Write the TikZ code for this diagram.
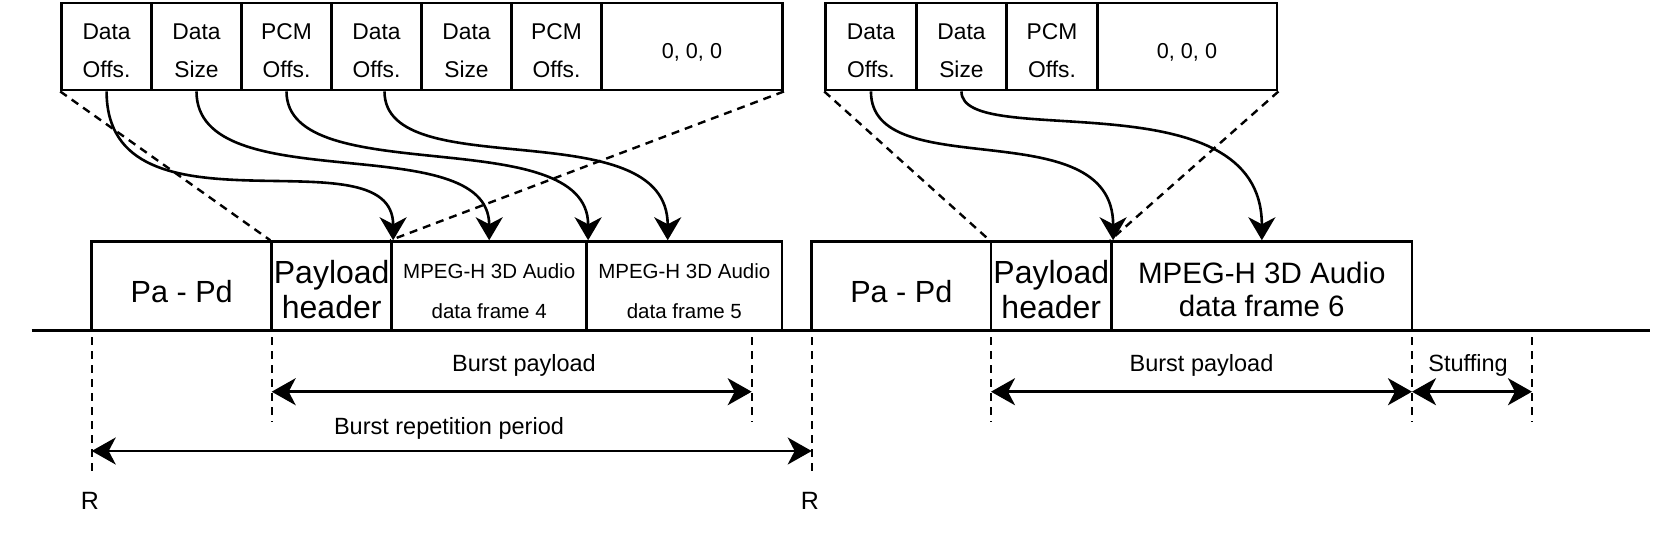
\documentclass[tikz,border=0pt]{standalone}
\usepackage{fontspec}
\setmainfont{Liberation Sans}
\usetikzlibrary{arrows.meta,fit,calc}
\begin{document}
\begin{tikzpicture}[x=0.5pt,y=-0.5pt,
  box/.style={draw, line width=1.45pt, inner sep=0pt},
  celltx/.style={anchor=base, inner sep=0pt, font=\fontsize{11.4}{13}\selectfont},
  tx/.style={anchor=base, inner sep=0pt},
  conn/.style={line width=1.3pt, -{Stealth[length=11.5pt, width=13.5pt, inset=3.5pt]}},
  dim/.style={line width=1.3pt, {Stealth[length=12pt, width=13.5pt, inset=3.5pt]}-{Stealth[length=12pt, width=13.5pt, inset=3.5pt]}},
  dashln/.style={line width=1.2pt, dash pattern=on 4pt off 3pt},
  lbl/.style={anchor=base, inner sep=0pt, font=\fontsize{11.75}{14}\selectfont}]
\useasboundingbox (0,0) rectangle (1656,543);

% ---------- top table 1 ----------
\foreach \n/\a/\b/\l/\m in {c1/61.7/151.5/Data/Offs., c2/151.5/241.5/Data/Size, c3/241.5/331.5/PCM/Offs., c4/331.5/421.5/Data/Offs., c5/421.5/511.5/Data/Size, c6/511.5/601.5/PCM/Offs.}{
  \node[box, fit={(\a,3)(\b,90)}] (\n) {};
  \node[celltx] (\n-a) at ({(\a+\b)/2},39.3) {\l};
  \node[celltx] (\n-b) at ({(\a+\b)/2},77.3) {\m};
}
\node[box, fit={(601.5,3)(782.5,90)}] (c7) {};
\node[tx, font=\fontsize{10.8}{12}\selectfont] (c7-a) at (692,58.5) {0, 0, 0};

% ---------- top table 2 ----------
\foreach \n/\a/\b/\l/\m in {d1/825.7/916.2/Data/Offs., d2/916.2/1006.7/Data/Size, d3/1006.7/1097.2/PCM/Offs.}{
  \node[box, fit={(\a,3)(\b,90)}] (\n) {};
  \node[celltx] (\n-a) at ({(\a+\b)/2},39.3) {\l};
  \node[celltx] (\n-b) at ({(\a+\b)/2},77.3) {\m};
}
\node[box, fit={(1097.2,3)(1277,90)}] (d4) {};
\node[tx, font=\fontsize{10.8}{12}\selectfont] (d4-a) at (1187,58.5) {0, 0, 0};

% ---------- baseline ----------
\coordinate (bl) at (31.7,330.5);
\coordinate (br) at (1650,330.5);
\draw[line width=1.45pt] (bl) -- (br);

% ---------- lower boxes ----------
\node[box, fit={(91.7,241.7)(271.7,330.5)}] (pp1) {};
\node[box, fit={(271.7,241.7)(391.7,330.5)}] (ph1) {};
\node[box, fit={(391.7,241.7)(586.7,330.5)}] (f4) {};
\node[box, fit={(586.7,241.7)(782,330.5)}] (f5) {};
\node[box, fit={(811.7,241.7)(991,330.5)}] (pp2) {};
\node[box, fit={(991,241.7)(1111.7,330.5)}] (ph2) {};
\node[box, fit={(1111.7,241.7)(1412,330.5)}] (f6) {};

\node[tx, font=\fontsize{15.3}{18}\selectfont] (pp1-t) at (181.7,302) {Pa - Pd};
\node[tx, font=\fontsize{15.3}{18}\selectfont] (pp2-t) at (901.3,302) {Pa - Pd};
\node[tx, font=\fontsize{16}{19}\selectfont] (ph1-a) at (331.7,283.3) {Payload};
\node[tx, font=\fontsize{16}{19}\selectfont] (ph1-b) at (331.7,318) {header};
\node[tx, font=\fontsize{16}{19}\selectfont] (ph2-a) at (1051.3,283.3) {Payload};
\node[tx, font=\fontsize{16}{19}\selectfont] (ph2-b) at (1051.3,318) {header};
\node[tx, font=\fontsize{10.25}{12}\selectfont] (f4-a) at (489.2,278.3) {MPEG-H 3D Audio};
\node[tx, font=\fontsize{10.25}{12}\selectfont] (f4-b) at (489.2,318.3) {data frame 4};
\node[tx, font=\fontsize{10.25}{12}\selectfont] (f5-a) at (684.3,278.3) {MPEG-H 3D Audio};
\node[tx, font=\fontsize{10.25}{12}\selectfont] (f5-b) at (684.3,318.3) {data frame 5};
\node[tx, font=\fontsize{14.75}{17}\selectfont] (f6-a) at (1261.8,283.3) {MPEG-H 3D Audio};
\node[tx, font=\fontsize{14.75}{17}\selectfont] (f6-b) at (1261.8,316.7) {data frame 6};

% ---------- dashed zoom lines ----------
\draw[dashln] (c1.south west) -- (ph1.north west);
\draw[dashln] (c7.south east) -- (f4.north west);
\draw[dashln] (d1.south west) -- (ph2.north west);
\draw[dashln] (d4.south east) -- (f6.north west);

% ---------- curved connectors ----------
\coordinate (t4) at ($(f5.north west)!0.416!(f5.north east)$);
\draw[conn] (c1.south) .. controls +(0,155) and +(0,-111) .. (ph1.north east);
\draw[conn] (c2.south) .. controls +(0,110) and +(0,-114) .. (f4.north);
\draw[conn] (c3.south) .. controls +(0,100) and +(0,-120) .. (f4.north east);
\draw[conn] ([xshift=4pt]c4.south) .. controls +(0,95) and +(0,-131) .. (t4);
\draw[conn] (d1.south) .. controls +(0,95) and +(0,-131) .. (ph2.north east);
\draw[conn] (d2.south) .. controls +(0,60) and +(0,-165) .. (f6.north);

% ---------- dimension guides ----------
\foreach \n/\x/\yb in {g1/91.7/473, g2/271.7/422, g3/751.7/422, g4/811.7/473, g5/991/422, g6/1412/422, g7/1532/422}{
  \coordinate (\n t) at (\x,337);
  \coordinate (\n b) at (\x,\yb);
  \draw[dashln] (\n t) -- (\n b);
}
\coordinate (a1l) at (271.7,391.7);
\coordinate (a1r) at (751.7,391.7);
\coordinate (a2l) at (91.7,451);
\coordinate (a2r) at (811.7,451);
\coordinate (a3l) at (991,391.7);
\coordinate (a3r) at (1412,391.7);
\coordinate (a4r) at (1532,391.7);
\draw[dim] (a1l) -- (a1r);
\draw[dim] (a2l) -- (a2r);
\draw[dim] (a3l) -- (a3r);
\draw[dim] (a3r) -- (a4r);

\node[lbl] (l1) at (524,371.7) {Burst payload};
\node[lbl] (l2) at (449,434) {Burst repetition period};
\node[lbl] (l3) at (1201.5,371.7) {Burst payload};
\node[lbl] (l4) at (1468,371.7) {Stuffing};
\node[lbl, font=\fontsize{12.5}{14}\selectfont] (r1) at (90,509) {R};
\node[lbl, font=\fontsize{12.5}{14}\selectfont] (r2) at (810,509) {R};
\end{tikzpicture}
\end{document}
